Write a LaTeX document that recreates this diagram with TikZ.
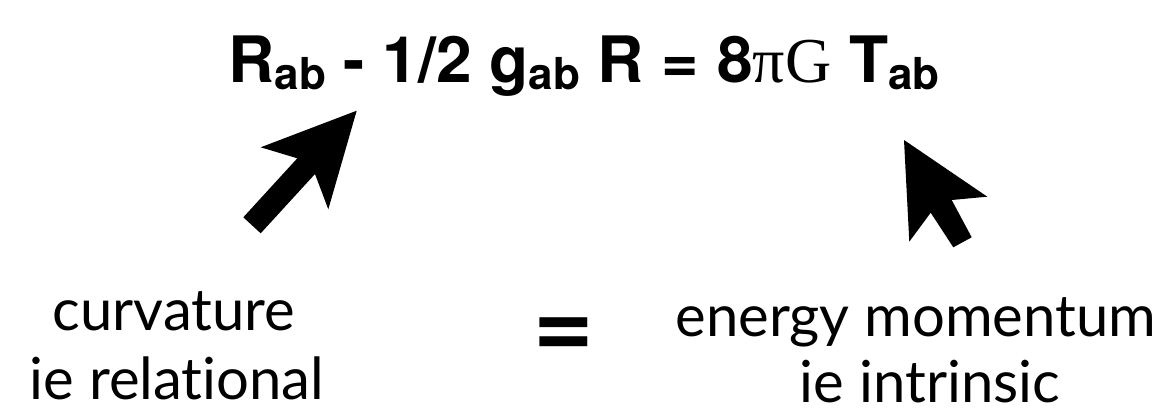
\documentclass[tikz,border=0pt]{standalone}
\usepackage{fontspec}
\newfontfamily\heros{TeX Gyre Heros}
\newfontfamily\tmsf{Liberation Serif}
\newfontfamily\gill[Ligatures={NoCommon,NoContextual}]{Lato}
\newcommand\sbab[1]{\raisebox{-7pt}{\fontsize{44}{44}\selectfont #1}}
\begin{document}
\begin{tikzpicture}[x=1pt,y=-1pt,
  eqtext/.style={inner sep=0pt,anchor=base,font=\heros\bfseries\fontsize{64}{64}\selectfont},
  lbl/.style={inner sep=0pt,anchor=base,font=\gill\fontsize{58}{58}\selectfont},
  blockarrow/.style={fill=black}]
\useasboundingbox (0,0) rectangle (1168,412);
\node[eqtext] (eq) at (584,83) {R\sbab{ab} - 1/2 g\sbab{ab} R = 8{\tmsf\mdseries πG} T\sbab{ab}};
\fill[blockarrow] (356.7,110.7) -- (260.7,147.3) -- (297.3,158.3) -- (243.3,217.3) -- (260.7,233.3) -- (315,174) -- (328.3,209.3) -- cycle;
\fill[blockarrow] (904,140) -- (987.3,196.7) -- (951.7,200) -- (971.7,237.3) -- (953.3,247.3) -- (930.7,212.7) -- (909.3,241.7) -- cycle;
\node[lbl] (curv) at (174,330) {curvature};
\node[lbl] (rel) at (177,399) {ie relational};
\node[lbl] (en) at (916,336) {energy momentum};
\node[lbl] (intr) at (930,402) {ie intrinsic};
\node[inner sep=0pt,font=\gill\bfseries\fontsize{108}{108}\selectfont] (eqs) at (564,343) {=};
\end{tikzpicture}
\end{document}
